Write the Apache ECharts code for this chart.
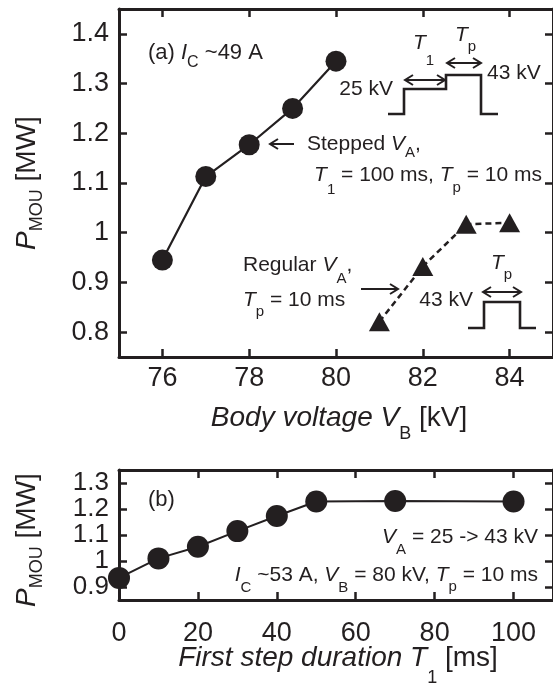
<!DOCTYPE html>
<html><head><meta charset="utf-8">
<script src="https://cdn.jsdelivr.net/npm/echarts@6/dist/echarts.min.js"></script>
<style>html,body{margin:0;padding:0;background:#fff}#c{width:553px;height:686px}</style>
</head><body><div id="c"></div>
<script>
// ---- data ----
const vbStepped = [76, 77, 78, 79, 80];
const pStepped = [0.945, 1.113, 1.177, 1.25, 1.345];
const vbRegular = [81, 82, 83, 84];
const pRegular = [0.821, 0.932, 1.017, 1.02];
const t1Values = [0, 10, 20, 30, 40, 50, 70, 100];
const pT1 = [0.935, 1.01, 1.055, 1.115, 1.173, 1.229, 1.231, 1.229];
const topXTicks = [76, 78, 80, 82, 84];
const topYTicks = [0.8, 0.9, 1.0, 1.1, 1.2, 1.3, 1.4];
const botXTicks = [0, 20, 40, 60, 80, 100];
const botYTicks = [0.9, 1.0, 1.1, 1.2, 1.3];

const C = '#231f20';
const FF = '"Liberation Sans", Arial, Helvetica, sans-serif';
const ctx = document.createElement('canvas').getContext('2d');
function tw(t, sz, it) { ctx.font = (it ? 'italic ' : '') + sz + 'px ' + FF; return ctx.measureText(t).width; }
// segs: [text, size, italic, dyFromBaseline]
function rich(x, y, segs, align, rot) {
  let w = 0; const kids = [];
  segs.forEach(s => {
    const sz = s[1], it = !!s[2], dy = s[3] || 0;
    kids.push({ type: 'text', x: w, y: dy - 0.35 * sz,
      style: { text: s[0], fontSize: sz, fontFamily: FF, fontStyle: it ? 'italic' : 'normal',
        fill: C, align: 'left', verticalAlign: 'middle' } });
    w += tw(s[0], sz, it);
  });
  const ox = align === 'right' ? -w : (align === 'center' ? -w / 2 : 0);
  kids.forEach(k => { k.x += ox; });
  return { type: 'group', x: x, y: y, rotation: rot || 0, silent: true, children: kids };
}
function poly(pts, w) {
  return { type: 'polyline', silent: true, shape: { points: pts }, style: { stroke: C, lineWidth: w || 2.2, fill: null } };
}
function arrow(x1, x2, y, both) { // head at x2 (and x1 if both)
  const els = [poly([[x1, y], [x2, y]], 2)];
  const d = x2 > x1 ? -1 : 1;
  els.push(poly([[x2 + d * 8, y - 5], [x2, y], [x2 + d * 8, y + 5]], 2));
  if (both) els.push(poly([[x1 - d * 8, y - 5], [x1, y], [x1 - d * 8, y + 5]], 2));
  return els;
}

function fmt(v) { return String(+(+v).toFixed(1)); }
function xAx(grid, min, max, ticks, pos, showLab, margin) {
  return { type: 'value', gridIndex: grid, min: min, max: max, position: pos,
    axisLine: { show: true, onZero: false, lineStyle: { color: C, width: 3 } },
    axisTick: { show: true, inside: true, length: 8, customValues: ticks, lineStyle: { color: C, width: 2.5 } },
    axisLabel: { show: showLab, customValues: ticks, fontSize: 27, fontFamily: FF, color: C, margin: margin, formatter: fmt,
      hideOverlap: false, showMinLabel: true, showMaxLabel: true },
    splitLine: { show: false } };
}
function yAx(grid, min, max, ticks, pos, showLab, fs) {
  return { type: 'value', gridIndex: grid, min: min, max: max, position: pos,
    axisLine: { show: true, onZero: false, lineStyle: { color: C, width: 3 } },
    axisTick: { show: true, inside: true, length: 8, customValues: ticks, lineStyle: { color: C, width: 2.5 } },
    axisLabel: { show: showLab, customValues: ticks, fontSize: fs || 27, lineHeight: 18, fontFamily: FF, color: C, margin: 10, formatter: fmt,
      hideOverlap: false, showMinLabel: true, showMaxLabel: true },
    splitLine: { show: false } };
}
const zip = (a, b) => a.map((v, i) => [v, b[i]]);

const graphics = [
  rich(37, 183, [['P', 28, true], ['MOU', 18, false, 6], [' [MW]', 28]], 'center', Math.PI / 2),
  rich(37, 540, [['P', 28, true], ['MOU', 18, false, 6], [' [MW]', 28]], 'center', Math.PI / 2),
  rich(339, 428, [['Body voltage V', 28, true], ['B', 18, false, 12], [' [kV]', 28]], 'center'),
  rich(338, 668, [['First step duration T', 28, true], ['1', 18, false, 16], [' [ms]', 28]], 'center'),
  rich(148, 61, [['(a) ', 22], ['I', 22, true], ['C', 16, false, 7], [' ~49 A', 22]], 'left'),
  rich(148, 508, [['(b)', 22]], 'left'),
  rich(307, 152, [['Stepped ', 21], ['V', 21, true], ['A', 15, false, 6], [',', 21]], 'left'),
  rich(542, 183, [['T', 21, true], ['1', 15, false, 12], [' = 100 ms, ', 21], ['T', 21, true], ['p', 15, false, 10], [' = 10 ms', 21]], 'right'),
  rich(393, 97, [['25 kV', 21]], 'right'),
  rich(487, 81, [['43 kV', 21]], 'left'),
  rich(413, 51, [['T', 21, true], ['1', 15, false, 15]], 'left'),
  rich(455, 43, [['T', 21, true], ['p', 15, false, 9]], 'left'),
  rich(243, 273, [['Regular ', 21], ['V', 21, true], ['A', 15, false, 11], [',', 21]], 'left'),
  rich(243, 308, [['T', 21, true], ['p', 15, false, 9], [' = 10 ms', 21]], 'left'),
  rich(473, 308, [['43 kV', 21]], 'right'),
  rich(491, 271, [['T', 21, true], ['p', 15, false, 9]], 'left'),
  rich(538, 545, [['V', 21, true], ['A', 15, false, 10], [' = 25 -> 43 kV', 21]], 'right'),
  rich(538, 583, [['I', 21, true], ['C', 15, false, 10], [' ~53 A, ', 21], ['V', 21, true], ['B', 15, false, 10], [' = 80 kV, ', 21], ['T', 21, true], ['p', 15, false, 9], [' = 10 ms', 21]], 'right'),
  poly([[388, 114], [404, 114], [404, 89], [446, 89], [446, 75], [481, 75], [481, 114], [498, 114]], 2.6),
  poly([[468, 328], [484, 328], [484, 302], [520, 302], [520, 328], [536, 328]], 2.6)
].concat(arrow(294, 270, 144), arrow(361, 398, 289), arrow(405, 445, 80, true), arrow(447, 481, 63, true), arrow(483, 521, 292, true));

const chart = echarts.init(document.getElementById('c'), null, { renderer: 'canvas' });
chart.setOption({
  animation: false,
  backgroundColor: '#fff',
  grid: [
    { left: 119, top: 9, width: 435, height: 348, show: false },
    { left: 119, top: 470, width: 435, height: 130, show: false }
  ],
  xAxis: [
    xAx(0, 75, 85, topXTicks, 'bottom', true, 8),
    xAx(0, 75, 85, topXTicks, 'top', false, 8),
    xAx(1, 0, 110, botXTicks, 'bottom', true, 20),
    xAx(1, 0, 110, botXTicks, 'top', false, 8)
  ],
  yAxis: [
    yAx(0, 0.75, 1.45, topYTicks, 'left', true, 27),
    yAx(0, 0.75, 1.45, topYTicks, 'right', false),
    yAx(1, 0.85, 1.35, botYTicks, 'left', true, 26),
    yAx(1, 0.85, 1.35, botYTicks, 'right', false)
  ],
  series: [
    { type: 'line', xAxisIndex: 0, yAxisIndex: 0, data: zip(vbStepped, pStepped), symbol: 'circle', symbolSize: 21,
      lineStyle: { color: C, width: 2.2 }, itemStyle: { color: C }, z: 5 },
    { type: 'line', xAxisIndex: 0, yAxisIndex: 0, data: zip(vbRegular, pRegular), symbol: 'triangle', symbolSize: [21, 19],
      lineStyle: { color: C, width: 2.5, type: [6, 4] }, itemStyle: { color: C }, z: 5 },
    { type: 'line', xAxisIndex: 2, yAxisIndex: 2, data: zip(t1Values, pT1), symbol: 'circle', symbolSize: 22,
      lineStyle: { color: C, width: 2 }, itemStyle: { color: C }, z: 5 }
  ],
  graphic: graphics
});
</script></body></html>
